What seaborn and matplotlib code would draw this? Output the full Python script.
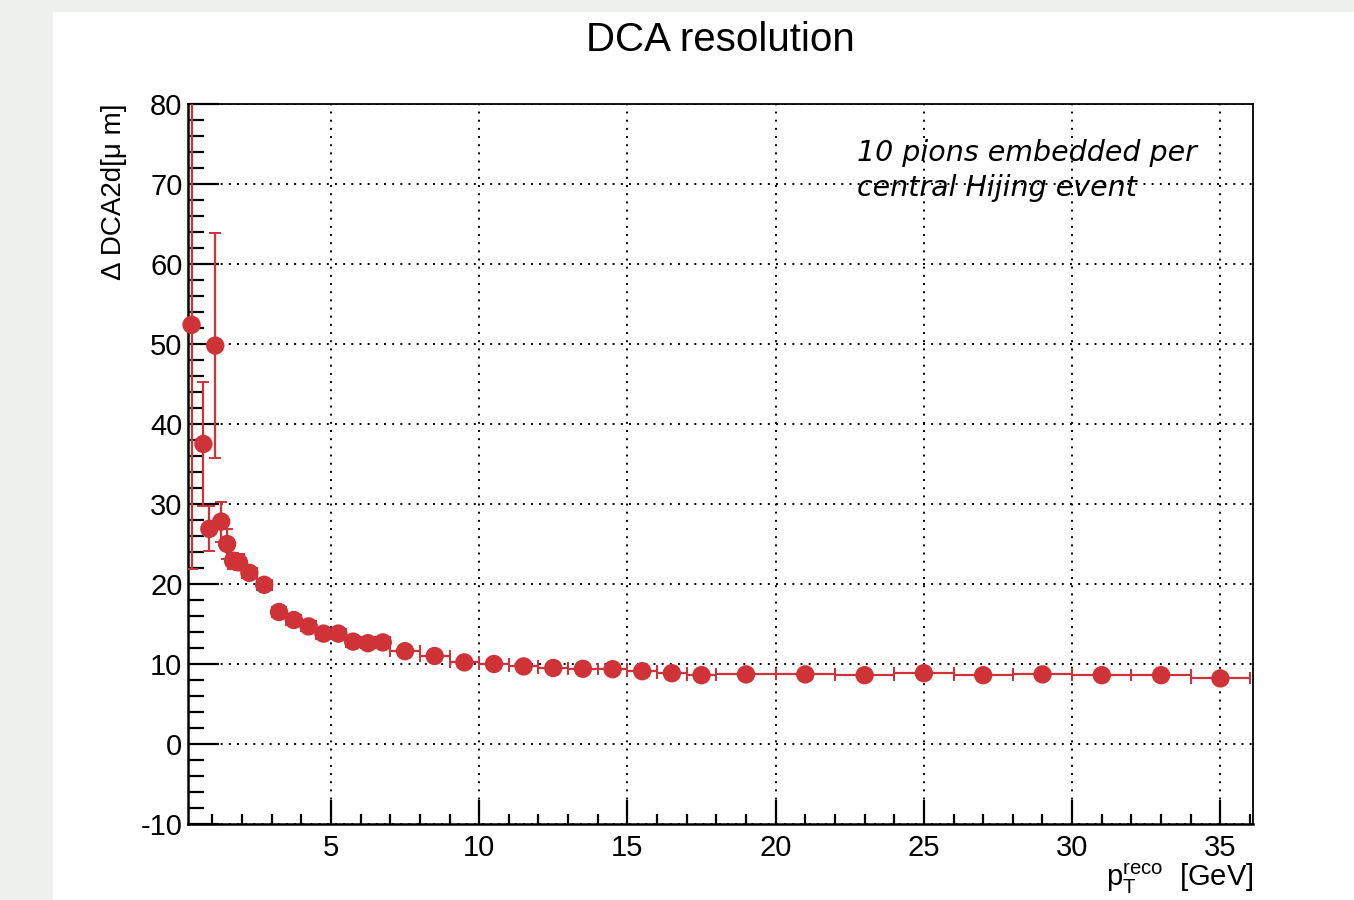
import matplotlib
matplotlib.use('Agg')
import matplotlib.pyplot as plt
from matplotlib.patches import Rectangle
from matplotlib.ticker import MultipleLocator
import seaborn as sns
import pandas as pd

# pT bin centres, half widths, resolution and its error
pt = [0.3, 0.7, 0.9, 1.1, 1.3, 1.5, 1.7, 1.9,
      2.25, 2.75, 3.25, 3.75, 4.25, 4.75, 5.25, 5.75, 6.25, 6.75,
      7.5, 8.5, 9.5, 10.5, 11.5, 12.5, 13.5, 14.5, 15.5, 16.5, 17.5,
      19, 21, 23, 25, 27, 29, 31, 33, 35]
pt_err = [0.1] * 8 + [0.25] * 10 + [0.5] * 11 + [1.0] * 9
dca = [52.4, 37.5, 26.9, 49.8, 27.8, 25.0, 22.9, 22.7,
       21.4, 19.9, 16.5, 15.5, 14.7, 13.8, 13.8, 12.8, 12.6, 12.7,
       11.6, 11.0, 10.2, 10.0, 9.7, 9.5, 9.4, 9.35, 9.1, 8.85, 8.6,
       8.7, 8.7, 8.6, 8.85, 8.6, 8.7, 8.6, 8.6, 8.2]
dca_err = [30.5, 7.7, 2.8, 14.1, 2.5, 1.9, 1.0, 1.0,
           0.7, 0.5, 0.5, 0.4, 0.4, 0.4, 0.3, 0.3, 0.3, 0.3,
           0.3, 0.3, 0.2, 0.2, 0.2, 0.2, 0.2, 0.2, 0.2, 0.2, 0.2,
           0.2, 0.2, 0.2, 0.2, 0.2, 0.2, 0.2, 0.2, 0.2]

df = pd.DataFrame({'pt': pt, 'pt_err': pt_err, 'dca': dca, 'dca_err': dca_err})

sns.set_theme(style='ticks')
plt.rcParams['font.family'] = ['Liberation Sans', 'DejaVu Sans']
plt.rcParams['mathtext.fontset'] = 'custom'
plt.rcParams['mathtext.rm'] = 'Liberation Sans'
plt.rcParams['text.color'] = 'black'
plt.rcParams['axes.labelcolor'] = 'black'
plt.rcParams['axes.unicode_minus'] = False

RED = '#cf3338'

fig = plt.figure(figsize=(13.54, 9.0), dpi=100, facecolor='#eef0ee')
# white slide area behind the plot
fig.patches.append(Rectangle((53 / 1354, 0), 1, 888 / 900, transform=fig.transFigure,
                             facecolor='white', edgecolor='none', zorder=-10))
ax = fig.add_axes([188 / 1354, 76 / 900, (1253 - 188) / 1354, (824 - 104) / 900])
ax.set_facecolor('white')

ax.errorbar(df['pt'], df['dca'], xerr=df['pt_err'], yerr=df['dca_err'], fmt='none',
            ecolor=RED, elinewidth=1.6, capsize=4, capthick=1.4, zorder=3)
sns.scatterplot(data=df, x='pt', y='dca', ax=ax, color=RED, s=175,
                edgecolor='none', linewidth=0, zorder=4, clip_on=False)

ax.set_xlim(0.18, 36.1)
ax.set_ylim(-10, 80)
ax.set_xticks([5, 10, 15, 20, 25, 30, 35])
ax.xaxis.set_minor_locator(MultipleLocator(1))
ax.set_yticks(range(-10, 81, 10))
ax.yaxis.set_minor_locator(MultipleLocator(2))

ax.grid(True, which='major', color='black', linestyle=(0, (1, 3.2)), linewidth=1.4)
ax.tick_params(axis='both', which='both', direction='in', top=False, right=False,
               colors='black', labelsize=21, width=1.6)
ax.tick_params(axis='x', which='major', length=17, pad=7)
ax.tick_params(axis='x', which='minor', length=7.5)
ax.tick_params(axis='y', which='major', length=22, pad=4)
ax.tick_params(axis='y', which='minor', length=11.5)
for side in ['left', 'bottom']:
    ax.spines[side].set_linewidth(1.8)
for side in ['top', 'right']:
    ax.spines[side].set_linewidth(1.3)
    ax.spines[side].set_visible(True)
for s in ax.spines.values():
    s.set_color('black')

ax.set_xlabel(r'$\mathregular{p_{T}^{reco}}$  [GeV]', fontsize=21, loc='right', labelpad=0)
ax.set_ylabel('Δ DCA2d[μ m]', fontsize=20, loc='top', labelpad=10)

fig.text(720 / 1354, 1 - 40 / 900, 'DCA resolution', fontsize=29,
         ha='center', va='center')
ax.text(0.628, 0.952, '10 pions embedded per\ncentral Hijing event',
        transform=ax.transAxes, fontsize=20.5, style='italic',
        family='DejaVu Sans', ha='left', va='top', linespacing=1.35)

fig.savefig('out.png', dpi=100, facecolor=fig.get_facecolor())
